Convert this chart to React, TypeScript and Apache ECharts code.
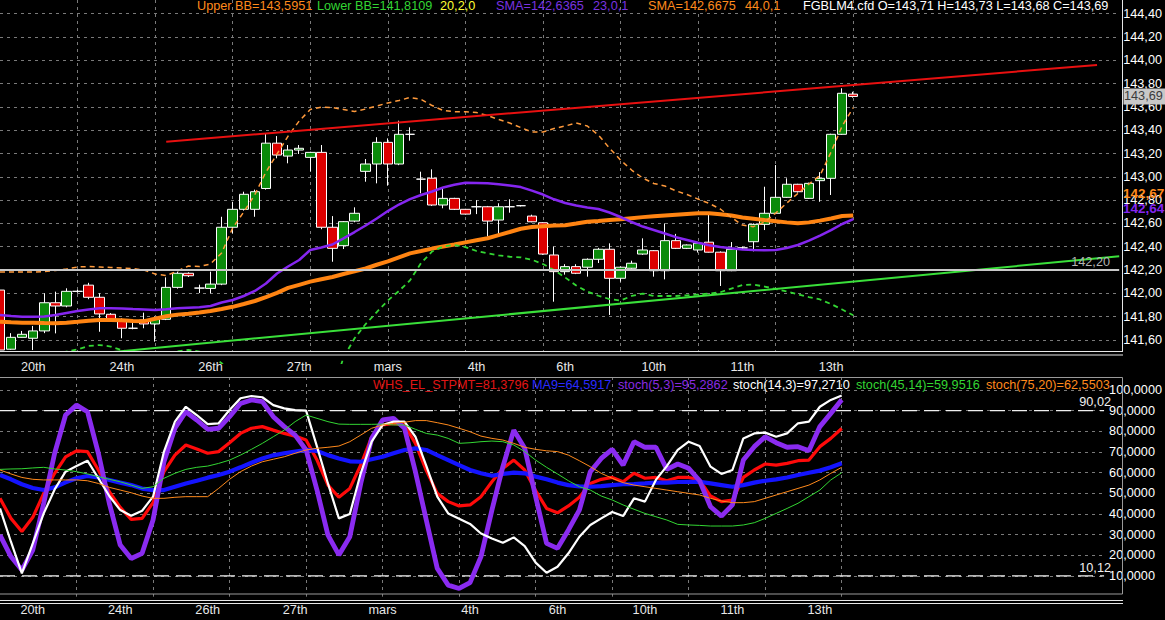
import React, { useEffect, useRef } from 'react';
import * as echarts from 'echarts';

const FONT = '"Liberation Sans", Arial, sans-serif';
const N_CATS = 102;
const categories = Array.from({ length: N_CATS }, (_, i) => 'c' + i);
const dayLabels = ['20th', '24th', '26th', '27th', 'mars', '4th', '6th', '10th', '11th', '13th'];
const dayLabelIdx = [3, 11, 19, 27, 35, 43, 51, 59, 67, 75];

const opens = [
  142.028, 141.52, 141.622, 141.614, 141.677, 141.919, 141.891, 142.017, 142.07, 141.966,
  141.82, 141.771, 141.7, 141.771, 141.737, 141.777, 142.051, 142.172, 142.045, 142.042,
  142.079, 142.567, 142.721, 142.721, 142.9, 143.289, 143.178, 143.23, 143.167, 143.21,
  142.567, 142.409, 142.62, 143.047, 143.11, 143.296, 143.11, 143.365, 142.98, 142.988,
  142.758, 142.815, 142.721, 142.743, 142.743, 142.629, 142.743, 142.752, 142.663, 142.606,
  142.329, 142.186, 142.229, 142.224, 142.292, 142.378, 142.129, 142.215, 142.337, 142.366,
  142.194, 142.452, 142.386, 142.372, 142.439, 142.353, 142.194, 142.39, 142.443, 142.592,
  142.687, 142.824, 142.936, 142.815, 142.967, 142.987, 143.365, 143.71,
];
const closes = [
  141.513, 141.622, 141.648, 141.677, 141.919, 141.891, 142.017, 142.017, 141.966, 141.823,
  141.777, 141.7, 141.7, 141.737, 141.777, 142.051, 142.172, 142.151, 142.045, 142.079,
  142.567, 142.721, 142.85, 142.872, 143.289, 143.187, 143.23, 143.245, 143.21, 142.567,
  142.386, 142.615, 142.687, 143.11, 143.296, 143.11, 143.365, 143.365, 142.98, 142.758,
  142.815, 142.721, 142.68, 142.743, 142.62, 142.743, 142.743, 142.752, 142.614, 142.337,
  142.186, 142.229, 142.172, 142.292, 142.378, 142.129, 142.224, 142.258, 142.372, 142.194,
  142.452, 142.386, 142.415, 142.43, 142.353, 142.194, 142.378, 142.39, 142.592, 142.687,
  142.824, 142.936, 142.872, 142.944, 142.987, 143.365, 143.717, 143.69,
];
const lows = [
  141.5, 141.515, 141.62, 141.513, 141.658, 141.656, 141.88, 142.005, 141.949, 141.67,
  141.76, 141.614, 141.691, 141.7, 141.585, 141.77, 142.04, 142.14, 142.002, 142.0,
  142.07, 142.515, 142.71, 142.657, 142.89, 143.159, 143.116, 143.196, 143.044, 142.55,
  142.271, 142.38, 142.61, 142.958, 142.944, 142.924, 143.1, 143.31, 142.858, 142.75,
  142.73, 142.715, 142.675, 142.68, 142.486, 142.51, 142.692, 142.745, 142.61, 142.33,
  141.928, 142.16, 142.165, 142.143, 142.26, 141.814, 142.1, 142.21, 142.33, 142.143,
  142.12, 142.38, 142.38, 142.35, 142.35, 142.063, 142.19, 142.38, 142.36, 142.543,
  142.68, 142.82, 142.865, 142.81, 142.786, 142.844, 143.36, 143.68,
];
const highs = [
  142.05, 141.658, 141.677, 141.72, 142.0, 142.014, 142.043, 142.03, 142.09, 142.0,
  141.83, 141.786, 141.777, 141.834, 141.8, 142.137, 142.186, 142.18, 142.074, 142.186,
  142.657, 142.786, 142.872, 142.89, 143.374, 143.35, 143.273, 143.273, 143.215, 143.273,
  142.663, 142.62, 142.738, 143.153, 143.34, 143.33, 143.482, 143.425, 143.044, 143.064,
  142.895, 142.82, 142.725, 142.8, 142.75, 142.773, 142.807, 142.758, 142.675, 142.61,
  142.4, 142.25, 142.25, 142.3, 142.39, 142.429, 142.23, 142.28, 142.472, 142.37,
  142.6, 142.51, 142.42, 142.435, 142.673, 142.36, 142.44, 142.4, 142.6, 142.915,
  143.101, 142.987, 142.94, 142.95, 143.04, 143.37, 143.76, 143.73,
];

const sma23 = [
  141.814, 141.805, 141.799, 141.799, 141.801, 141.814, 141.831, 141.848, 141.861, 141.871,
  141.871, 141.87, 141.865, 141.861, 141.857, 141.863, 141.871, 141.876, 141.88, 141.891,
  141.921, 141.943, 141.977, 142.02, 142.084, 142.17, 142.23, 142.286, 142.372, 142.393,
  142.419, 142.472, 142.526, 142.582, 142.642, 142.706, 142.762, 142.809, 142.844, 142.874,
  142.908, 142.932, 142.949, 142.947, 142.944, 142.936, 142.925, 142.912, 142.882, 142.848,
  142.807, 142.775, 142.754, 142.737, 142.724, 142.694, 142.655, 142.612, 142.573, 142.543,
  142.513, 142.482, 142.458, 142.434, 142.413, 142.397, 142.386, 142.376, 142.372, 142.369,
  142.372, 142.389, 142.415, 142.453, 142.496, 142.543, 142.595, 142.637,
];
const sma44 = [
  141.756, 141.751, 141.748, 141.748, 141.745, 141.743, 141.747, 141.755, 141.764, 141.771,
  141.771, 141.769, 141.762, 141.761, 141.782, 141.803, 141.817, 141.825, 141.835, 141.848,
  141.865, 141.884, 141.908, 141.934, 141.968, 142.004, 142.046, 142.073, 142.1, 142.12,
  142.14, 142.166, 142.189, 142.213, 142.245, 142.274, 142.309, 142.343, 142.363, 142.384,
  142.402, 142.419, 142.437, 142.455, 142.473, 142.5, 142.526, 142.554, 142.569, 142.576,
  142.582, 142.584, 142.599, 142.615, 142.621, 142.629, 142.635, 142.645, 142.654, 142.661,
  142.668, 142.675, 142.681, 142.687, 142.687, 142.679, 142.668, 142.651, 142.64, 142.629,
  142.619, 142.609, 142.601, 142.609, 142.624, 142.642, 142.664, 142.668,
];
const upperBB = [
  142.183, 142.183, 142.183, 142.183, 142.187, 142.196, 142.209, 142.226, 142.23, 142.226,
  142.222, 142.217, 142.213, 142.2, 142.166, 142.153, 142.191, 142.234, 142.23, 142.252,
  142.346, 142.561, 142.698, 142.848, 143.041, 143.196, 143.35, 143.479, 143.578, 143.599,
  143.595, 143.578, 143.561, 143.582, 143.608, 143.634, 143.655, 143.681, 143.664, 143.612,
  143.569, 143.559, 143.559, 143.552, 143.526, 143.492, 143.462, 143.423, 143.385, 143.385,
  143.415, 143.436, 143.462, 143.436, 143.359, 143.247, 143.144, 143.058, 142.99, 142.943,
  142.921, 142.88, 142.848, 142.809, 142.772, 142.724, 142.651, 142.586, 142.572, 142.612,
  142.689, 142.775, 142.857, 142.938, 143.011, 143.213, 143.436, 143.595,
];
const lowerBB = [
  141.48, 141.47, 141.46, 141.46, 141.47, 141.48, 141.5, 141.518, 141.548, 141.556,
  141.543, 141.512, 141.49, 141.48, 141.48, 141.49, 141.5, 141.515, 141.5, 141.47,
  141.4, 141.3, 141.2, 141.1, 141.0, 140.95, 140.9, 140.88, 140.9, 140.98,
  141.15, 141.45, 141.614, 141.736, 141.839, 141.938, 142.02, 142.111, 142.26, 142.359,
  142.402, 142.415, 142.397, 142.363, 142.343, 142.326, 142.314, 142.309, 142.288, 142.251,
  142.2, 142.136, 142.067, 142.015, 141.979, 141.951, 141.938, 141.977, 141.998, 141.977,
  141.977, 141.977, 141.983, 141.99, 141.998, 142.009, 142.041, 142.071, 142.075, 142.058,
  142.037, 142.015, 141.992, 141.968, 141.947, 141.908, 141.861, 141.811,
];

const redTrendIdx = [15, 99];
const redTrendVal = [143.301, 143.961];
const greenTrendIdx = [10, 101];
const greenTrendVal = [141.495, 142.318];
const supportLevel = 142.2;
const stochLevels = [90.02, 10.12];

const whsStpmt = [
  47.6, 37.9, 31.5, 38.4, 50.0, 59.7, 67.7, 70.6, 70.2, 61.3,
  50.8, 43.2, 37.4, 37.9, 45.5, 60.5, 68.5, 73.4, 71.5, 69.4,
  70.2, 74.5, 79.0, 81.5, 82.3, 80.6, 79.0, 77.7, 75.8, 66.1,
  54.0, 48.1, 52.4, 63.7, 77.4, 83.1, 83.9, 83.1, 74.2, 61.0,
  50.0, 46.0, 43.9, 44.4, 48.4, 55.6, 62.1, 66.1, 61.3, 51.3,
  42.7, 40.6, 43.9, 48.1, 54.8, 56.8, 57.7, 55.6, 59.7, 57.3,
  57.7, 56.1, 57.7, 57.7, 56.5, 48.7, 46.0, 46.8, 57.7, 61.3,
  64.2, 63.7, 64.5, 65.8, 66.1, 72.6, 76.6, 81.4,
];
const ma9 = [
  58.9, 56.8, 54.4, 52.6, 51.6, 52.9, 55.3, 57.3, 58.4, 57.7,
  56.5, 55.2, 54.0, 52.3, 51.6, 51.6, 53.2, 54.8, 56.1, 57.6,
  58.9, 60.5, 62.6, 64.8, 66.9, 68.4, 69.4, 70.2, 71.0, 70.5,
  68.5, 66.9, 65.5, 65.3, 66.5, 67.7, 69.4, 71.0, 71.8, 71.0,
  68.5, 66.1, 63.7, 61.3, 59.7, 58.5, 59.4, 60.0, 59.7, 58.1,
  56.8, 55.2, 54.0, 53.4, 53.2, 53.5, 54.0, 54.4, 54.5, 54.8,
  55.2, 55.2, 55.5, 55.6, 55.6, 54.8, 54.0, 53.2, 54.0, 55.2,
  56.1, 56.8, 57.7, 58.9, 60.0, 61.0, 62.6, 64.6,
];
const stoch5 = [
  29.8, 19.4, 12.9, 22.6, 45.2, 69.4, 87.9, 92.7, 89.5, 69.4,
  45.2, 25.0, 18.5, 21.0, 37.1, 65.3, 81.5, 89.5, 85.5, 81.0,
  81.5, 87.1, 93.5, 95.2, 94.4, 87.1, 82.3, 78.2, 71.0, 51.6,
  29.8, 20.2, 29.0, 54.8, 76.6, 85.5, 86.3, 81.5, 60.5, 37.0,
  13.7, 5.6, 4.0, 6.8, 19.4, 41.9, 62.9, 80.6, 71.8, 48.4,
  25.8, 23.4, 32.3, 41.9, 60.5, 66.9, 71.3, 63.7, 75.0, 72.3,
  72.3, 61.6, 64.2, 62.1, 56.1, 43.5, 39.0, 44.4, 66.1, 72.6,
  77.4, 74.5, 72.3, 72.6, 70.6, 82.3, 88.7, 95.3,
];
const stoch14 = [
  42.7, 26.6, 11.3, 25.8, 40.3, 51.9, 60.5, 63.2, 65.8, 57.3,
  48.7, 41.9, 39.2, 41.6, 48.4, 70.2, 84.7, 91.9, 87.9, 83.5,
  83.9, 90.3, 96.0, 97.1, 96.5, 92.7, 91.1, 90.3, 90.0, 72.6,
  54.8, 37.9, 40.0, 59.7, 75.0, 83.1, 84.7, 84.7, 77.4, 63.3,
  48.4, 40.3, 37.7, 35.2, 30.6, 28.2, 26.1, 28.7, 24.5, 16.5,
  11.6, 14.5, 21.0, 29.0, 34.7, 37.9, 41.0, 39.0, 47.6, 46.0,
  56.5, 63.2, 71.0, 75.0, 72.9, 62.9, 59.4, 61.3, 76.6, 79.0,
  79.4, 77.4, 79.0, 83.9, 84.7, 91.9, 95.2, 97.3,
];
const stoch45 = [
  61.6, 61.8, 61.9, 62.3, 62.6, 61.8, 61.3, 60.5, 59.4, 58.1,
  56.8, 55.6, 54.0, 52.4, 53.2, 57.3, 59.7, 61.6, 62.6, 63.2,
  64.5, 66.1, 68.5, 71.3, 74.2, 77.4, 80.6, 84.7, 87.9, 86.3,
  84.7, 83.5, 83.4, 83.4, 83.4, 83.5, 83.1, 83.1, 81.0, 79.0,
  78.2, 76.6, 74.2, 74.5, 75.0, 75.3, 75.0, 73.4, 70.2, 66.1,
  62.6, 59.4, 56.1, 53.2, 51.6, 48.7, 46.8, 44.4, 42.3, 40.3,
  38.7, 37.1, 35.0, 34.7, 34.5, 34.2, 34.2, 34.2, 34.7, 35.8,
  37.9, 40.3, 42.7, 45.2, 48.4, 51.6, 56.5, 60.0,
];
const stoch75 = [
  61.3, 59.4, 57.7, 56.8, 56.5, 56.5, 56.5, 56.5, 56.1, 54.8,
  52.9, 51.6, 50.3, 48.7, 47.6, 47.6, 48.1, 48.4, 48.4, 48.4,
  52.4, 56.8, 60.5, 63.2, 65.3, 66.5, 67.7, 69.4, 71.0, 71.8,
  72.3, 72.9, 75.0, 78.2, 81.5, 83.1, 83.9, 84.4, 85.2, 85.2,
  84.2, 83.1, 81.5, 79.8, 77.7, 76.6, 75.8, 74.2, 72.3, 71.3,
  70.6, 70.2, 68.5, 65.8, 62.9, 59.7, 57.3, 55.2, 54.0, 53.2,
  52.4, 51.6, 50.8, 50.0, 49.2, 47.6, 46.3, 45.5, 45.5, 46.0,
  47.6, 49.2, 50.8, 52.4, 54.0, 56.5, 59.7, 62.6,
];

const ORANGE = '#ff8a1c';
const GREEN = '#33d633';
const PURPLE = '#8526f0';

const topLegend = [
  { x: 197, t: 'Upper BB=143,5951', c: ORANGE },
  { x: 317, t: 'Lower BB=141,8109', c: GREEN },
  { x: 440, t: '20,2,0', c: '#ffff33' },
  { x: 496, t: 'SMA=142,6365', c: '#7a33e0' },
  { x: 593, t: '23,0,1', c: '#7a33e0' },
  { x: 648, t: 'SMA=142,6675', c: ORANGE },
  { x: 745, t: '44,0,1', c: ORANGE },
  { x: 803, t: 'FGBLM4.cfd O=143,71 H=143,73 L=143,68 C=143,69', c: '#ffffff' },
];
const lowLegend = [
  { x: 373, t: 'WHS_EL_STPMT=81,3796', c: '#e01515' },
  { x: 532, t: 'MA9=64,5917', c: '#2a2aff' },
  { x: 618, t: 'stoch(5,3)=95,2862', c: '#8a2be2' },
  { x: 733, t: 'stoch(14,3)=97,2710', c: '#ffffff' },
  { x: 856, t: 'stoch(45,14)=59,9516', c: GREEN },
  { x: 986, t: 'stoch(75,20)=62,5503', c: ORANGE },
];

const labelMap: Record<string, string> = {};
dayLabelIdx.forEach((idx, k) => { labelMap[categories[idx]] = dayLabels[k]; });

function lineSeries(data: any[], color: string, width: number, xi: number, extra: any = {}) {
  return {
    type: 'line', xAxisIndex: xi, yAxisIndex: xi, data, showSymbol: false, symbol: 'none',
    lineStyle: { color, width, ...(extra.lineStyle || {}) }, silent: true, z: extra.z || 3,
  };
}

function xAxisCfg(gi: number, margin: number) {
  return {
    type: 'category', gridIndex: gi, data: categories, boundaryGap: false,
    axisLine: { show: false }, axisTick: { show: false },
    axisLabel: {
      interval: (index: number) => dayLabelIdx.includes(index),
      formatter: (v: string) => labelMap[v] || '',
      color: '#e8e8e8', fontSize: 12.7, fontFamily: FONT, margin,
    },
    splitLine: {
      show: true,
      interval: (index: number) => index > 0 && index % 7 === 0 && index <= 77,
      lineStyle: { color: '#7a7a7a', width: 1, type: [3, 4] },
    },
  };
}

export default function App() {
  const ref = useRef<HTMLDivElement>(null);
  useEffect(() => {
    document.body.style.margin = '0';
    document.body.style.background = '#000';
    const chart = echarts.init(ref.current!, null, { renderer: 'svg' });
    const candleData = opens.map((o, i) => [o, closes[i], lows[i], highs[i]]);
    const option: any = {
      animation: false,
      backgroundColor: '#000',
      grid: [
        { left: 0, top: 0, width: 1120, height: 363.2 },
        { left: 0, top: 377, width: 1120, height: 219.7 },
      ],
      xAxis: [xAxisCfg(0, -3), xAxisCfg(1, 7)],
      yAxis: [
        {
          type: 'value', gridIndex: 0, position: 'right', min: 141.4, max: 144.518, interval: 0.2,
          axisLine: { show: false }, axisTick: { show: false },
          axisLabel: {
            color: '#ffffff', fontSize: 12.7, fontFamily: FONT, margin: 4,
            formatter: (v: number) => (v < 141.5 || v > 144.45 ? '' : v.toFixed(2).replace('.', ',')),
          },
          splitLine: { show: true, showMinLine: false, showMaxLine: false, lineStyle: { color: '#7a7a7a', width: 1, type: [3, 4] } },
        },
        {
          type: 'value', gridIndex: 1, position: 'right', min: 0, max: 106.3, interval: 10,
          axisLine: { show: false }, axisTick: { show: false },
          axisLabel: {
            color: '#ffffff', fontSize: 12.7, fontFamily: FONT, margin: 5,
            formatter: (v: number) => (v < 5 || v > 100.5 ? '' : v.toFixed(4).replace('.', ',')),
          },
          splitLine: { show: true, showMinLine: false, showMaxLine: false, lineStyle: { color: '#7a7a7a', width: 1, type: [3, 4] } },
        },
      ],
      series: [
        {
          type: 'candlestick', xAxisIndex: 0, yAxisIndex: 0, data: candleData, barWidth: 10, silent: true, z: 2,
          itemStyle: {
            color: '#0a8a0a', color0: '#dc0000', borderColor: '#ffffff', borderColor0: '#ffffff',
            borderColorDoji: '#ffffff', borderWidth: 1,
          },
        },
        lineSeries(sma44, '#ff8412', 4, 0),
        lineSeries(sma23, PURPLE, 2.5, 0),
        lineSeries(upperBB, '#ff9a3c', 1.5, 0, { lineStyle: { type: [5, 4] } }),
        lineSeries(lowerBB, GREEN, 1.8, 0, { lineStyle: { type: [5, 4] } }),
        lineSeries(redTrendIdx.map((i, k) => [categories[i], redTrendVal[k]]), '#e81010', 2, 0),
        lineSeries(greenTrendIdx.map((i, k) => [categories[i], greenTrendVal[k]]), '#3ae03a', 2, 0),
        lineSeries([[categories[0], supportLevel], [categories[N_CATS - 1], supportLevel]], '#c8c8c8', 2, 0),
        lineSeries([[categories[0], stochLevels[0]], [categories[N_CATS - 1], stochLevels[0]]], '#f0f0f0', 1.3, 1, { lineStyle: { type: [15, 7] } }),
        lineSeries([[categories[0], stochLevels[1]], [categories[N_CATS - 1], stochLevels[1]]], '#f0f0f0', 1.3, 1, { lineStyle: { type: [15, 7] } }),
        lineSeries(whsStpmt, '#ff0a0a', 3.2, 1),
        lineSeries(ma9, '#1414ff', 4.2, 1),
        lineSeries(stoch5, '#8a2bf0', 4.8, 1),
        lineSeries(stoch14, '#ffffff', 2.2, 1),
        lineSeries(stoch45, GREEN, 1, 1),
        lineSeries(stoch75, ORANGE, 1, 1),
      ],
    };
    chart.setOption(option);

    const yP = (v: number) => chart.convertToPixel({ yAxisIndex: 0 }, v) as number;
    const yL = (v: number) => chart.convertToPixel({ yAxisIndex: 1 }, v) as number;
    const txt = (x: number, y: number, text: string, fill: string, extra: any = {}) => ({
      type: 'text', x, y, z: 100,
      style: { text, fill, fontSize: 12.7, fontFamily: FONT, align: 'left', verticalAlign: 'middle', ...extra },
    });
    const line = (x1: number, y1: number, x2: number, y2: number, stroke: string, z = 60) => ({
      type: 'line', z, shape: { x1, y1, x2, y2 }, style: { stroke, lineWidth: 1 },
    });
    const pY = yP(closes[closes.length - 1]);
    const graphics: any[] = [
      { type: 'rect', z: 50, shape: { x: 0, y: 351, width: 1123, height: 9.5 }, style: { fill: '#000' } },
      line(1122.5, 0, 1122.5, 351, '#e6e6e6'),
      line(0, 351.5, 1123, 351.5, '#e6e6e6'),
      line(0, 355, 1123, 355, '#e6e6e6'),
      { type: 'rect', z: 60, shape: { x: -2, y: 377.5, width: 1124.5, height: 216.5 }, style: { fill: 'none', stroke: '#9a9a9a', lineWidth: 1 } },
      line(0, 600.5, 1123, 600.5, '#e6e6e6'),
      line(0, 603.5, 1123, 603.5, '#e6e6e6'),
      { type: 'rect', z: 90, shape: { x: 1123.5, y: pY - 8, width: 42, height: 16 }, style: { fill: '#c8c8c8' } },
      txt(1124, pY, '143,69', '#3a3a3a'),
      txt(1123, 193, '142,67', ORANGE, { fontWeight: 'bold', fontSize: 13.5 }),
      txt(1123, 208, '142,64', PURPLE, { fontWeight: 'bold', fontSize: 13.5 }),
      txt(1110, yP(supportLevel) - 8, '142,20', '#b4b4b4', { align: 'right' }),
      txt(1111, yL(stochLevels[0]) - 9, '90,02', '#f0f0f0', { align: 'right' }),
      txt(1111, yL(stochLevels[1]) - 8, '10,12', '#f0f0f0', { align: 'right' }),
      ...topLegend.map((l) => txt(l.x, 6, l.t, l.c)),
      ...lowLegend.map((l) => txt(l.x, 385, l.t, l.c)),
    ];
    chart.setOption({ graphic: graphics });
    return () => chart.dispose();
  }, []);
  return <div ref={ref} style={{ width: 1165, height: 620, background: '#000' }} />;
}
